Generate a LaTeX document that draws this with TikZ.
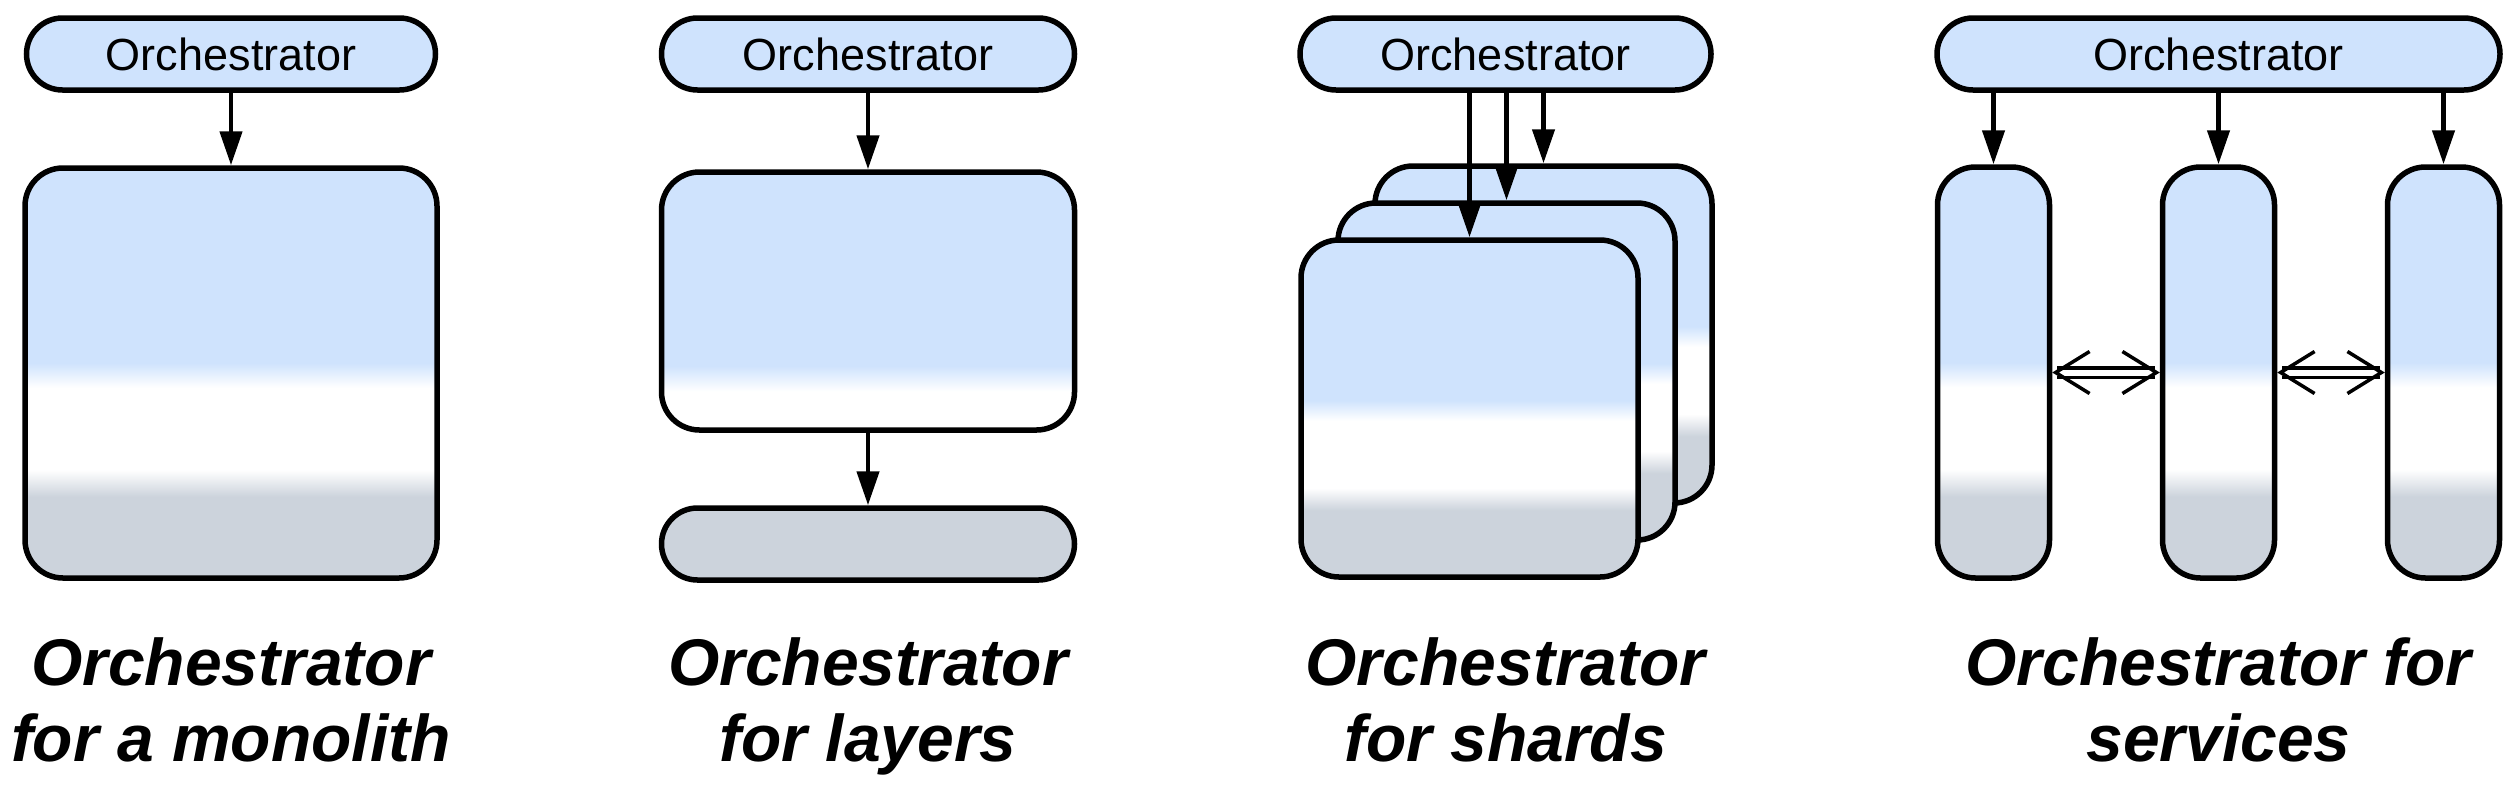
\documentclass[tikz,border=0pt]{standalone}
\usepackage{fontspec}
\setmainfont{Liberation Sans}
\usetikzlibrary{positioning,arrows.meta}
\definecolor{tierblue}{RGB}{207,227,253}
\definecolor{tiergray}{RGB}{204,211,220}
\pgfdeclareverticalshading{tiershade}{100bp}{color(0bp)=(tiergray); color(34.9bp)=(tiergray); color(38.2bp)=(white); color(48.2bp)=(white); color(51.2bp)=(tierblue); color(100bp)=(tierblue)}
\pgfdeclareverticalshading{uppershade}{100bp}{color(0bp)=(white); color(32.5bp)=(white); color(37.4bp)=(tierblue); color(100bp)=(tierblue)}

\begin{document}
\begin{tikzpicture}[x=1pt, y=-1pt,
  orch/.style={draw, line width=5.5pt, fill=tierblue, rounded corners=36pt, minimum width=#1, minimum height=72pt, inner sep=0pt, font=\fontsize{45}{50}\selectfont},
  tier/.style={draw, line width=5.5pt, rounded corners=38pt, shade, shading=tiershade, inner sep=0pt},
  arr/.style={line width=4.5pt, -{Triangle[length=34pt,width=22pt]}},
  dbl/.style={double, double distance=6pt, line width=3.5pt, {Straight Barb[length=34pt,width=42pt,line width=3.5pt]}-{Straight Barb[length=34pt,width=42pt,line width=3.5pt]}},
  title/.style={align=center, inner sep=0pt, anchor=north, font=\fontsize{66}{76}\selectfont\bfseries\itshape}]
\useasboundingbox (0,0) rectangle (2516,788);

% Monolith
\node[orch=409pt] (orch1) at (231,54) {Orchestrator};
\node[tier, minimum width=412pt, minimum height=410pt, below=72.5pt of orch1] (mono) {};
\draw[arr] (orch1) -- (mono);
\node[title] (cap1) at (231,637) {Orchestrator\\for a monolith};

% Layers
\node[orch=413pt] (orch2) at (868,54) {Orchestrator};
\node[tier, shading=uppershade, minimum width=413pt, minimum height=258pt, below=76.5pt of orch2] (upper) {};
\node[draw, line width=5.5pt, fill=tiergray, rounded corners=36pt, minimum width=413pt, minimum height=72pt, below=72.5pt of upper] (lower) {};
\draw[arr] (orch2) -- (upper);
\draw[arr] (upper) -- (lower);
\node[title] (cap2) at (868,637) {Orchestrator\\for layers};

% Shards
\node[orch=411pt] (orch3) at (1505.5,54) {Orchestrator};
\node[tier, minimum size=337pt] (shard3) at (1543.5,334.5) {};
\node[tier, minimum size=337pt, xshift=-37pt, yshift=-37pt] (shard2) at (shard3) {};
\node[tier, minimum size=337pt, xshift=-37pt, yshift=-37pt] (shard1) at (shard2) {};
\draw[arr] (shard1.north |- orch3.south) -- (shard1.north);
\draw[arr] (shard2.north |- orch3.south) -- (shard2.north);
\draw[arr] (shard3.north |- orch3.south) -- (shard3.north);
\node[title] (cap3) at (1505.5,637) {Orchestrator\\for shards};

% Services
\node[orch=563pt] (orch4) at (2218.5,54) {Orchestrator};
\node[tier, minimum width=112pt, minimum height=411pt, below=71.5pt of orch4] (svc2) {};
\node[tier, minimum width=112pt, minimum height=411pt, left=107.5pt of svc2] (svc1) {};
\node[tier, minimum width=112pt, minimum height=411pt, right=107.5pt of svc2] (svc3) {};
\foreach \s in {svc1,svc2,svc3}
  \draw[arr] (\s.north |- orch4.south) -- (\s.north);
\draw[dbl] (svc1) -- (svc2);
\draw[dbl] (svc2) -- (svc3);
\node[title] (cap4) at (2218.5,637) {Orchestrator for\\services};
\end{tikzpicture}
\end{document}
